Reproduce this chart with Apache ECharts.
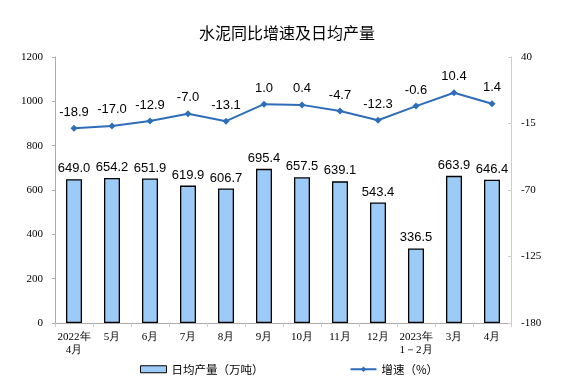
<!DOCTYPE html>
<html><head><meta charset="utf-8">
<script src="https://cdn.jsdelivr.net/npm/echarts@6/dist/echarts.min.js"></script>
<style>html,body{margin:0;padding:0;background:#fff}#c{width:574px;height:392px}</style>
</head><body><div id="c"></div>
<script>
const categories = ['2022年\n4月','5月','6月','7月','8月','9月','10月','11月','12月','2023年\n1－2月','3月','4月'];
const output = [649.0,654.2,651.9,619.9,606.7,695.4,657.5,639.1,543.4,336.5,663.9,646.4];
const growth = [-18.9,-17.0,-12.9,-7.0,-13.1,1.0,0.4,-4.7,-12.3,-0.6,10.4,1.4];
const leftTicks = [0,200,400,600,800,1000,1200];
const rightTicks = [-180,-125,-70,-15,40];

const serif = '"Liberation Serif","DejaVu Serif",serif';
const sans = '"Liberation Sans",Arial,sans-serif';
const cjk = '"Noto Sans CJK SC",sans-serif';
const chart = echarts.init(document.getElementById('c'));
chart.setOption({
  animation:false,
  title:{text:'水泥同比增速及日均产量',left:'center',top:20,textStyle:{fontSize:16,fontWeight:'normal',color:'#000',fontFamily:cjk}},
  grid:{left:55,right:63,top:57,bottom:69},
  legend:{left:135,bottom:12,itemGap:86,textStyle:{fontSize:11.5,color:'#000',fontFamily:cjk},
    data:[{name:'日均产量（万吨）',icon:'rect',itemStyle:{borderColor:'#000',borderWidth:1}},{name:'增速（%）'}],
    itemWidth:26,itemHeight:7},
  xAxis:{type:'category',data:categories,
    axisLine:{lineStyle:{color:'#aaa'}},axisTick:{show:true,lineStyle:{color:'#ccc'},length:4},
    axisLabel:{fontSize:11,color:'#000',fontFamily:serif,lineHeight:13,margin:8,interval:0}},
  yAxis:[
    {type:'value',min:0,max:1200,interval:200,splitLine:{show:false},
     axisLine:{show:true,lineStyle:{color:'#aaa'}},axisTick:{show:true,lineStyle:{color:'#aaa'},length:3},
     axisLabel:{fontSize:11,color:'#000',fontFamily:serif,margin:12,formatter:v=>leftTicks.includes(v)?String(v):''}},
    {type:'value',min:-180,max:40,interval:55,splitLine:{show:false},
     axisLine:{show:true,lineStyle:{color:'#ccc'}},axisTick:{show:true,inside:true,lineStyle:{color:'#ccc'},length:3},
     axisLabel:{fontSize:11,color:'#000',fontFamily:serif,margin:10,formatter:v=>rightTicks.includes(v)?String(v):''}}
  ],
  series:[
    {name:'日均产量（万吨）',type:'bar',data:output,barWidth:16,
     itemStyle:{color:'#9ccbf7',borderColor:'#000',borderWidth:1.3},
     label:{show:true,position:'top',distance:4,fontSize:13,color:'#000',fontFamily:sans,formatter:p=>p.value.toFixed(1)}},
    {name:'增速（%）',type:'line',yAxisIndex:1,data:growth,symbol:'diamond',symbolSize:7,
     lineStyle:{color:'#2e6db8',width:2},itemStyle:{color:'#2e6db8'},
     label:{show:true,position:'top',distance:6,fontSize:13,color:'#000',fontFamily:sans,formatter:p=>p.value.toFixed(1)}}
  ]
});
</script></body></html>
